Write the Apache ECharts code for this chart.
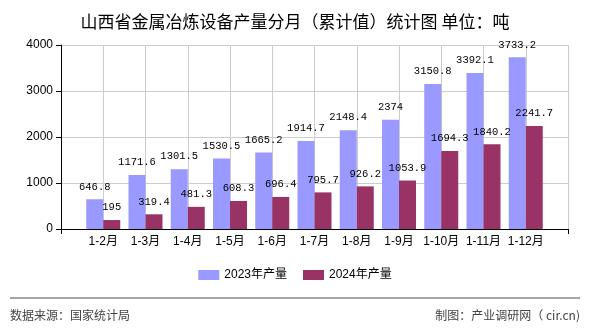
<!DOCTYPE html>
<html><head><meta charset="utf-8">
<script src="https://cdn.jsdelivr.net/npm/echarts@6/dist/echarts.min.js"></script>
<style>html,body{margin:0;padding:0;background:#fff}#c{width:590px;height:330px}</style>
</head><body><div id="c"></div>
<script>
const categories = ['1-2月','1-3月','1-4月','1-5月','1-6月','1-7月','1-8月','1-9月','1-10月','1-11月','1-12月'];
const values2023 = [646.8,1171.6,1301.5,1530.5,1665.2,1914.7,2148.4,2374,3150.8,3392.1,3733.2];
const values2024 = [195,319.4,481.3,608.3,696.4,795.7,926.2,1053.9,1694.3,1840.2,2241.7];
const seriesNames = ['2023年产量','2024年产量'];
const yTicks = [0,1000,2000,3000,4000];

const cats = [''].concat(categories, ['']);
const pad = arr => [null].concat(arr, [null]);
const labelStyle = {show:true, position:'top', distance:7, color:'#000', fontSize:10.5, fontFamily:'Liberation Mono, DejaVu Sans Mono, monospace'};
const chart = echarts.init(document.getElementById('c'));
chart.setOption({
  animation:false,
  title:{text:'山西省金属冶炼设备产量分月（累计值）统计图 单位：吨', left:'center', top:8,
    textStyle:{fontSize:17, fontWeight:'normal', color:'#000', fontFamily:'Noto Sans CJK SC'}},
  grid:{left:61, right:22, top:45, bottom:101},
  legend:{bottom:44, left:'center', itemWidth:21, itemHeight:10, itemGap:16,
    textStyle:{fontSize:12, color:'#000', fontFamily:'Liberation Sans, Noto Sans CJK SC'},
    icon:'rect'},
  xAxis:{type:'category', data:cats, boundaryGap:false,
    axisLine:{lineStyle:{color:'#000'}},
    axisTick:{show:true, length:5, interval:(i)=> i===0 || i===cats.length-1, lineStyle:{color:'#000'}},
    axisLabel:{color:'#000', fontSize:12, margin:7, interval:0, fontFamily:'Liberation Sans, Noto Sans CJK SC'},
    splitLine:{show:true, lineStyle:{color:'#ccc'}}},
  yAxis:{type:'value', min:yTicks[0], max:yTicks[yTicks.length-1], interval:1000,
    axisLine:{show:true, lineStyle:{color:'#000'}},
    axisTick:{show:true, length:5, lineStyle:{color:'#000'}},
    axisLabel:{color:'#000', fontSize:12, margin:8, fontFamily:'Liberation Sans', formatter:v=>String(v)},
    splitLine:{show:true, lineStyle:{color:'#ccc'}}},
  series:[
    {name:seriesNames[0], type:'bar', data:pad(values2023), barWidth:17, barGap:'0%', itemStyle:{color:'#9999FF'}, label:labelStyle},
    {name:seriesNames[1], type:'bar', data:pad(values2024), barWidth:17, itemStyle:{color:'#993366'}, label:labelStyle}
  ],
  graphic:[
    {type:'line', shape:{x1:10,y1:298,x2:580,y2:298}, style:{stroke:'#888', lineWidth:1.5}},
    {type:'text', left:10, top:309, style:{text:'数据来源：国家统计局', fill:'#444', font:'12px "Noto Sans CJK SC"'}},
    {type:'text', right:10, top:309, style:{text:'制图：产业调研网（ cir.cn)', fill:'#444', font:'12px "Noto Sans CJK SC"'}}
  ]
});
</script></body></html>
